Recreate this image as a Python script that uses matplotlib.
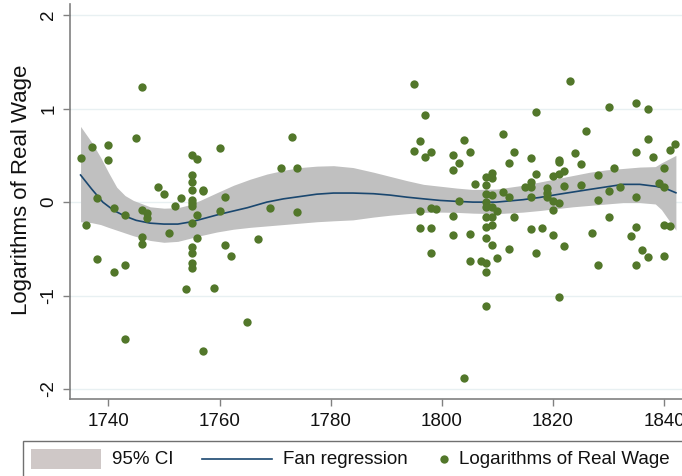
import numpy as np
import matplotlib
matplotlib.use("Agg")
import matplotlib.pyplot as plt
from matplotlib.patches import Rectangle
from matplotlib.lines import Line2D

plt.rcParams['font.family'] = ['Liberation Sans', 'DejaVu Sans']
plt.rcParams['axes.unicode_minus'] = False

# observations: year and log real wage
years = [1735, 1736, 1737, 1738, 1738, 1740, 1740, 1741, 1741,
         1743, 1743, 1743, 1745, 1746, 1746, 1746, 1746, 1747, 1747,
         1749, 1750, 1751, 1752, 1753, 1754,
         1755, 1755, 1755, 1755, 1755, 1755, 1755, 1755, 1755, 1755, 1755, 1755,
         1756, 1756, 1756, 1757, 1757, 1757, 1759, 1760, 1760, 1761, 1761,
         1762, 1765, 1767, 1769, 1771, 1773, 1774, 1774,
         1795, 1795, 1796, 1796, 1796, 1797, 1797, 1798, 1798, 1798, 1798,
         1799, 1802, 1802, 1802, 1802, 1803, 1803, 1804, 1804,
         1805, 1805, 1805, 1806, 1807,
         1808, 1808, 1808, 1808, 1808, 1808, 1808, 1808, 1808, 1808, 1808,
         1809, 1809, 1809, 1809, 1809, 1809, 1809,
         1810, 1810, 1811, 1811, 1812, 1812, 1812, 1813, 1813, 1815,
         1816, 1816, 1816, 1816, 1816, 1817, 1817, 1817, 1818,
         1819, 1819, 1819, 1820, 1820, 1820, 1820,
         1821, 1821, 1821, 1821, 1821, 1822, 1822, 1822, 1823, 1824,
         1825, 1825, 1826, 1827, 1828, 1828, 1828, 1830, 1830, 1830,
         1831, 1832, 1834, 1835, 1835, 1835, 1835, 1835, 1836,
         1837, 1837, 1837, 1838, 1839, 1840, 1840, 1840, 1840,
         1841, 1841, 1842]
log_wage = [0.47, -0.24, 0.59, 0.045, -0.605, 0.61, 0.45, -0.06, -0.75,
            -0.14, -0.67, -1.46, 0.69, 1.23, -0.08, -0.37, -0.45, -0.12, -0.17,
            0.165, 0.086, -0.33, -0.04, 0.047, -0.93,
            0.50, 0.29, 0.22, 0.125, 0.026, -0.007, -0.04, -0.225, -0.48, -0.54, -0.65, -0.705,
            0.46, -0.135, -0.38, 0.13, 0.115, -1.59, -0.92, 0.58, -0.10, 0.06, -0.46,
            -0.575, -1.28, -0.40, -0.06, 0.37, 0.70, 0.37, -0.11,
            1.26, 0.545, 0.65, -0.10, -0.28, 0.935, 0.48, 0.535, -0.06, -0.28, -0.54,
            -0.07, 0.505, 0.34, -0.15, -0.35, 0.42, 0.015, 0.66, -1.88,
            0.54, -0.345, -0.63, 0.19, -0.625,
            0.27, 0.186, 0.09, 0.004, -0.05, -0.16, -0.27, -0.38, -0.65, -0.75, -1.11,
            0.31, 0.26, 0.08, -0.05, -0.16, -0.25, -0.455,
            -0.09, -0.60, 0.73, 0.107, 0.42, 0.06, -0.505, 0.535, -0.16, 0.16,
            0.475, 0.21, 0.16, 0.06, -0.29, 0.96, 0.30, -0.54, -0.28,
            0.15, 0.10, 0.06, 0.275, 0.007, -0.08, -0.35,
            0.45, 0.425, 0.30, -0.01, -1.02, 0.33, 0.17, -0.47, 1.30, 0.525,
            0.41, 0.18, 0.76, -0.33, 0.285, 0.026, -0.67, 1.02, 0.12, -0.16,
            0.36, 0.16, -0.36, 1.06, 0.535, 0.06, -0.27, -0.67, -0.51,
            0.995, 0.68, -0.59, 0.48, 0.20, 0.37, 0.16, -0.24, -0.58,
            0.56, -0.26, 0.625]

# fan regression and 95% CI
fit_years = [1735, 1737, 1739, 1741, 1743, 1745, 1747.5, 1750, 1752.5, 1755,
             1757.5, 1760, 1762.5, 1765, 1768.5, 1771.5, 1774.5, 1777.5, 1780.5,
             1784, 1787.7, 1790.7, 1793.7, 1796.7, 1799.7, 1802.7, 1805.6, 1809.8,
             1814.6, 1817.6, 1820.6, 1823.6, 1826.6, 1829.6, 1832.6, 1835.6,
             1838.6, 1840.5, 1842.1]
fit_vals = [0.29, 0.14, 0.0, -0.09, -0.15, -0.195, -0.225, -0.235, -0.235, -0.21,
            -0.17, -0.13, -0.095, -0.06, 0.0, 0.035, 0.06, 0.085, 0.097,
            0.097, 0.09, 0.075, 0.053, 0.035, 0.018, 0.008, 0.0, 0.0,
            0.026, 0.05, 0.08, 0.108, 0.136, 0.163, 0.19, 0.19,
            0.168, 0.14, 0.10]
ci_years = [1735, 1737, 1738.6, 1740, 1741.5, 1743, 1744.5, 1747.5, 1750, 1752.5,
            1754.5, 1756.5, 1759.5, 1762.5, 1765.5, 1768.5, 1771.5, 1774.5, 1777.5,
            1780.5, 1784, 1787.7, 1790.7, 1793.7, 1796.7, 1799.7, 1802.7, 1805.6,
            1809.8, 1814.6, 1817.6, 1820.6, 1823.6, 1826.6, 1829.6, 1832.6, 1835.6,
            1838.4, 1839.5, 1842.1]
ci_upper = [0.81, 0.64, 0.48, 0.32, 0.16, 0.07, 0.018, -0.05, -0.065, -0.06,
            -0.03, 0.018, 0.10, 0.18, 0.245, 0.30, 0.34, 0.37, 0.385,
            0.39, 0.37, 0.32, 0.275, 0.23, 0.19, 0.17, 0.15, 0.135,
            0.14, 0.18, 0.215, 0.25, 0.285, 0.32, 0.345, 0.36, 0.375,
            0.38, 0.42, 0.50]
ci_lower = [-0.21, -0.22, -0.24, -0.27, -0.30, -0.33, -0.36, -0.41, -0.43, -0.42,
            -0.39, -0.36, -0.32, -0.29, -0.27, -0.255, -0.24, -0.225, -0.21,
            -0.20, -0.19, -0.16, -0.14, -0.124, -0.11, -0.107, -0.11, -0.118,
            -0.124, -0.107, -0.09, -0.07, -0.05, -0.035, -0.02, -0.005, -0.005,
            -0.02, -0.08, -0.30]

band_col = '#c0c0c0'
line_col = '#1a476f'
dot_col = '#52772a'
axis_col = '#808080'

fig = plt.figure(figsize=(6.82, 4.76), dpi=100)
ax = fig.add_axes([70/682, 1 - 399.3/476, 612/682, 395.3/476])

ax.fill_between(ci_years, ci_lower, ci_upper, color=band_col, lw=0, zorder=2)
ax.plot(fit_years, fit_vals, color=line_col, lw=1.2, zorder=3)
ax.scatter(years, log_wage, s=36, color=dot_col, lw=0, zorder=4)

ax.set_xlim(1733.1, 1843.2)
ax.set_ylim(-2.11, 2.12)
ax.set_xticks([1740, 1760, 1780, 1800, 1820, 1840])
ax.set_yticks([-2, -1, 0, 1, 2])
ax.set_yticklabels(['-2', '-1', '0', '1', '2'], rotation=90, va='center')
ax.grid(axis='y', color='#e8f0f2', lw=1, zorder=0)
ax.set_axisbelow(True)

for s in ['top', 'right']:
    ax.spines[s].set_visible(False)
for s in ['left', 'bottom']:
    ax.spines[s].set_color(axis_col)
    ax.spines[s].set_linewidth(1.2)
ax.tick_params(colors=axis_col, labelcolor='#111111', labelsize=13.5,
               length=5, width=1)
ax.tick_params(axis='x', pad=5)
ax.tick_params(axis='y', pad=4)

ax.set_ylabel('Logarithms of Real Wage', fontsize=16, color='#111111')
ax.yaxis.set_label_coords(-0.062, 0.53)

# legend box below the plot, running off the figure edge
fig.patches.append(Rectangle((22.7/682, -0.1), 1.0, 1 - 440.7/476 + 0.1,
                             transform=fig.transFigure, fill=False,
                             edgecolor='#707070', lw=1))
ly = 1 - 459.3/476
fig.patches.append(Rectangle((31/682, 1 - 469.3/476), 70/682, 20/476,
                             transform=fig.transFigure, color='#cfc8c7', lw=0))
fig.text(112/682, ly, '95% CI', fontsize=13.5, va='center', color='#111111')
fig.lines.append(Line2D([202/682, 272/682], [ly, ly], transform=fig.transFigure,
                        color=line_col, lw=1.2))
fig.text(283/682, ly, 'Fan regression', fontsize=13.5, va='center', color='#111111')
fig.lines.append(Line2D([444/682], [ly], transform=fig.transFigure, marker='o',
                        ms=6, color=dot_col, mew=0, ls='none'))
fig.text(459/682, ly, 'Logarithms of Real Wage', fontsize=13.5, va='center',
         color='#111111')

fig.savefig('out.png', dpi=100)
